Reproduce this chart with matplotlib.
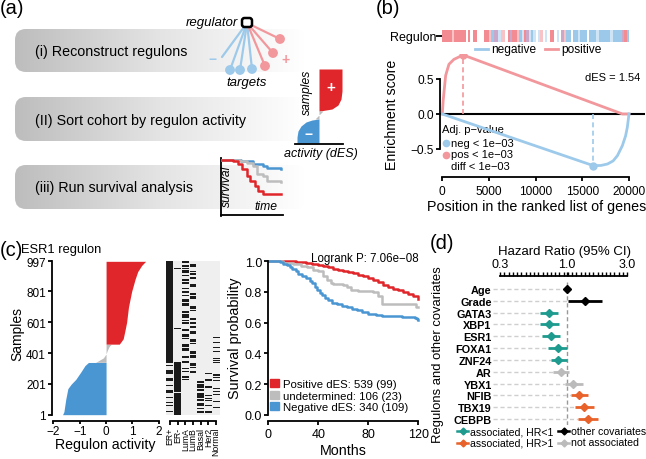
import numpy as np
import matplotlib
matplotlib.use('Agg')
import matplotlib.pyplot as plt
from matplotlib.patches import FancyBboxPatch, Circle, Patch
from matplotlib.colors import LinearSegmentedColormap
from matplotlib.ticker import FixedLocator, NullFormatter

plt.rcParams['font.family'] = ['Liberation Sans', 'DejaVu Sans']
plt.rcParams['axes.unicode_minus'] = True

# ================= DATA =================
# (a) schematic
step_labels = ["(i) Reconstruct regulons", "(II) Sort cohort by regulon activity", "(iii) Run survival analysis"]

# (b) GSEA running enrichment scores
pos_rank = [0, 100, 180, 360, 710, 1240, 2230, 19300, 20000]
pos_es = [0.0, 0.2, 0.31, 0.55, 0.71, 0.78, 0.843, 0.0, 0.0]
neg_rank = [0, 16180, 17000, 17700, 18300, 18760, 19290, 19640, 19820, 20000]
neg_es = [0.0, -0.738, -0.735, -0.714, -0.67, -0.595, -0.452, -0.31, -0.19, 0.0]
pos_peak = [2230, 0.843]
neg_peak = [16180, -0.738]
des_text = "dES = 1.54"
pval_lines = ["neg < 1e\u221203", "pos < 1e\u221203", "diff < 1e\u221203"]
barcode = ("rrrrprrrrr" ".r.rr...rr" "pbmmlpp.rm" "rrpblrmlbl"
           ".lp.l.rr.l" ".mpbb.bblb" "bb.bbblbbb" "bblbbbbmrb")
barcode_bin = 250
b_xticks = [0, 5000, 10000, 15000, 20000]
b_yticks = [-0.5, 0.0, 0.5]

# (c) ESR1 regulon activity (sorted samples)
blue_rank = [1, 20, 100, 170, 200, 230, 280, 320, 340]
blue_act = [-1.65, -1.6, -1.53, -1.45, -1.32, -1.15, -0.95, -0.8, -0.67]
gray_rank = [341, 350, 370, 395, 420, 445, 458]
gray_act = [-0.4, -0.3, -0.1, 0.0, 0.05, 0.12, 0.2]
red_rank = [459, 470, 494, 550, 601, 700, 801, 880, 930, 970, 997]
red_act = [0.5, 0.55, 0.65, 0.72, 0.78, 0.85, 0.97, 1.1, 1.2, 1.35, 1.5]
sample_ticks = [1, 201, 401, 601, 801, 997]
act_ticks = [-2, -1, 0, 1, 2]

# (c) annotation heatmap: black intervals (sample ranks) per column
heat_cols = ["ER+", "ER-", "LumA", "LumB", "Basal", "Her2", "Normal"]
heat_er_pos = [(20, 26), (56, 64), (78, 86), (110, 118), (140, 160), (185, 195), (218, 240),
               (262, 290), (318, 324), (336, 340), (345, 997)]
heat_er_neg = [(1, 140), (146, 218), (222, 340), (470, 474), (560, 563), (948, 952)]
heat_luma = [(985, 997), (961, 974), (946, 952), (924, 940), (900, 905), (870, 880), (848, 862),
             (815, 826), (794, 806), (770, 775), (735, 750), (707, 728), (660, 675), (631, 652),
             (610, 615), (587, 600), (544, 560), (505, 522), (490, 500), (470, 475), (440, 457),
             (414, 432), (370, 380), (338, 350), (300, 305), (280, 284), (240, 251), (229, 234)]
heat_lumb = [(957, 978), (930, 936), (905, 924), (881, 896), (827, 848), (780, 794), (751, 770),
             (690, 707), (675, 684), (615, 631), (588, 605), (565, 575), (523, 544), (475, 490),
             (458, 468), (395, 414), (371, 388), (320, 338), (306, 312), (270, 284), (262, 266)]
heat_basal = [(15, 22), (35, 46), (56, 78), (89, 100), (111, 143), (154, 165), (176, 197), (208, 219)]
heat_her2 = [(13, 24), (55, 67), (89, 95), (100, 110), (120, 132), (176, 190), (219, 232), (262, 273)]
heat_normal = [(45, 50), (86, 90), (132, 138), (150, 155), (170, 176), (219, 225), (240, 245),
               (255, 262), (302, 306), (338, 342), (350, 355), (365, 371), (410, 414), (436, 440),
               (468, 472), (500, 504)]

# (c) Kaplan-Meier curves
km_pos_t = [0, 22, 25, 30, 35, 40, 44, 48, 52, 56, 60, 64, 68, 72, 76, 80, 84, 88, 92, 96, 100, 104, 108, 112, 116, 120]
km_pos_s = [1.0, 0.997, 0.993, 0.988, 0.982, 0.975, 0.968, 0.96, 0.95, 0.944, 0.937, 0.93, 0.922, 0.913,
            0.903, 0.893, 0.878, 0.862, 0.845, 0.832, 0.822, 0.812, 0.8, 0.79, 0.777, 0.755]
km_und_t = [0, 12, 20, 26, 31, 36, 40, 44, 47, 50, 52, 60, 63, 66, 72, 84, 88, 91, 118, 120]
km_und_s = [1.0, 0.99, 0.98, 0.97, 0.96, 0.945, 0.935, 0.906, 0.88, 0.86, 0.852, 0.845, 0.83, 0.81,
            0.805, 0.797, 0.776, 0.722, 0.70, 0.70]
km_neg_t = [0, 9, 12, 15, 17, 19, 22, 24, 27, 30, 33, 35, 37, 39, 41, 43, 45, 48, 51, 55, 59, 63, 67,
            71, 75, 80, 86, 91, 100, 107, 113, 117, 119, 120]
km_neg_s = [1.0, 0.995, 0.985, 0.975, 0.96, 0.95, 0.935, 0.92, 0.905, 0.89, 0.872, 0.86, 0.835, 0.81,
            0.795, 0.78, 0.762, 0.745, 0.73, 0.72, 0.71, 0.70, 0.69, 0.68, 0.67, 0.657, 0.65, 0.646,
            0.643, 0.64, 0.637, 0.633, 0.625, 0.62]
km_labels = ["Positive dES: 539 (99)", "undetermined: 106 (23)", "Negative dES: 340 (109)"]
logrank_text = "Logrank P: 7.06e\u221208"
km_xticks = [0, 40, 80, 120]
km_yticks = [0.0, 0.2, 0.4, 0.6, 0.8, 1.0]

# (d) forest plot
fp_names = ['Age', 'Grade', 'GATA3', 'XBP1', 'ESR1', 'FOXA1', 'ZNF24', 'AR', 'YBX1', 'NFIB', 'TBX19', 'CEBPB']
fp_hr = [1.0, 1.40, 0.725, 0.725, 0.748, 0.849, 0.855, 0.90, 1.128, 1.25, 1.37, 1.48]
fp_lo = [0.98, 1.03, 0.615, 0.615, 0.635, 0.716, 0.748, 0.775, 0.97, 1.075, 1.16, 1.235]
fp_hi = [1.02, 1.89, 0.859, 0.87, 0.885, 1.0, 1.0, 1.05, 1.34, 1.48, 1.64, 1.78]
fp_group = ['other', 'other', 'low', 'low', 'low', 'low', 'low', 'na', 'na', 'high', 'high', 'high']
fp_major = [0.3, 1.0, 3.0]
fp_legend = [('low', 'associated, HR<1'), ('high', 'associated, HR>1'),
             ('other', 'other covariates'), ('na', 'not associated')]

# ================= STYLE =================
RED = '#E0262B'
BLUE = '#4A96D2'
GRAY = '#BDBDBD'
PINK = '#F2979C'
LBLUE = '#9DCAEA'
BAR_COLORS = {'r': '#F28C92', 'p': '#F7C3C6', 'b': '#9CC9EA', 'l': '#CFE4F4', 'm': '#C9A8C9'}
GROUP_COLORS = {'low': '#1E9A8E', 'high': '#E8632B', 'other': '#000000', 'na': '#BBBBBB'}
LW = 1.3

W, H = 646, 460
fig = plt.figure(figsize=(W / 100, H / 100), dpi=100)


def rect(x0, y0, x1, y1):
    return [x0 / W, 1 - y1 / H, (x1 - x0) / W, (y1 - y0) / H]


def r_style(ax):
    ax.set_facecolor('none')
    for s in ['top', 'right']:
        ax.spines[s].set_visible(False)
    for s in ['left', 'bottom']:
        ax.spines[s].set_linewidth(LW)
    ax.tick_params(width=LW, length=3, pad=1.5)


ax0 = fig.add_axes([0, 0, 1, 1])
ax0.set_facecolor('none')
ax0.axis('off')

# ================= PANEL A =================
box_cmap = LinearSegmentedColormap.from_list('box', ['#BDBDBD', '#E4E4E4', '#FFFFFF'])
grad = np.linspace(0, 1, 256).reshape(1, -1)
for (yt, yb), lab in zip([(30, 73), (98, 142), (166, 210)], step_labels):
    bp = FancyBboxPatch((15, yt), 290, yb - yt, boxstyle='round,pad=0,rounding_size=11',
                        facecolor='none', edgecolor='none')
    ax0.add_patch(bp)
    im = ax0.imshow(grad, extent=(15, 305, yb, yt), aspect='auto', cmap=box_cmap,
                    interpolation='bilinear', zorder=0)
    im.set_clip_path(bp)
    ax0.text(35, (yt + yb) / 2 + 0.5, lab, fontsize=10.3, va='center', ha='left', zorder=2)

# regulator network (schematic)
reg = (247, 24)
for (tx, ty) in [(222, 58), (230, 71), (240, 71), (252, 70)]:
    ax0.plot([reg[0], tx], [reg[1], ty], color=LBLUE, lw=1.6, zorder=2, solid_capstyle='round')
for (tx, ty) in [(265, 67), (273, 54), (280, 40)]:
    ax0.plot([reg[0], tx], [reg[1], ty], color=PINK, lw=1.6, zorder=2, solid_capstyle='round')
for (tx, ty) in [(230, 71), (240, 71), (252, 70)]:
    ax0.add_patch(Circle((tx, ty), 4.2, color=LBLUE, zorder=3))
for (tx, ty) in [(265, 67), (273, 54), (280, 40)]:
    ax0.add_patch(Circle((tx, ty), 4.2, color=PINK, zorder=3))
ax0.add_patch(FancyBboxPatch((242, 19), 10, 9, boxstyle='round,pad=0,rounding_size=2.5',
                             facecolor='white', edgecolor='black', lw=1.8, zorder=4))
ax0.text(238, 23, "regulator", fontsize=9.5, style='italic', ha='right', va='center')
ax0.text(213, 60, "\u2212", fontsize=10, color=LBLUE, ha='center', va='center', fontweight='bold')
ax0.text(286, 60, "+", fontsize=10, color=PINK, ha='center', va='center', fontweight='bold')
ax0.text(247, 83, "targets", fontsize=9.5, style='italic', ha='center', va='center')

# sorted-activity schematic
ax0.fill_betweenx([70, 92, 100, 106, 110, 112], [342, 342, 341, 338, 332, 320], 319, color=RED, lw=0, zorder=2)
ax0.fill_betweenx([112, 116, 120], [323, 319, 315], 319, color=GRAY, lw=0, zorder=2)
ax0.fill_betweenx([120, 121, 123, 127, 132, 138, 144], [319, 312, 306, 301, 298, 297, 297], 319,
                  color=BLUE, lw=0, zorder=2)
ax0.plot([295, 343], [145, 145], color='black', lw=1.3, zorder=2)
ax0.text(331, 88, "+", fontsize=11, color='white', ha='center', va='center', fontweight='bold', zorder=3)
ax0.text(309, 135, "\u2212", fontsize=10, color='white', ha='center', va='center', fontweight='bold', zorder=3)
ax0.text(307, 92, "samples", fontsize=8.7, style='italic', rotation=90, ha='center', va='center')
ax0.text(321, 154, "activity (dES)", fontsize=9, style='italic', ha='center', va='center')

# mini survival schematic
ax0.plot([221, 221], [159, 217], color='black', lw=1.3)
ax0.plot([221, 283], [216, 216], color='black', lw=1.3)
ax0.plot([222, 241, 253, 263, 267, 281], [161, 162, 165, 167, 168.5, 170], color=BLUE, lw=1.8,
         drawstyle='steps-post')
ax0.plot([222, 240, 247, 253, 257, 263, 267, 281], [161, 162, 163.5, 167, 175, 177, 182, 183], color=GRAY,
         lw=1.8, drawstyle='steps-post')
ax0.plot([222, 233, 238, 242, 247, 250, 255, 258, 263, 281], [161, 162, 165, 170, 177, 182, 187, 192, 195, 195],
         color=RED, lw=1.8, drawstyle='steps-post')
ax0.text(227, 186, "survival", fontsize=8.7, style='italic', rotation=90, ha='center', va='center')
ax0.text(266, 207, "time", fontsize=8.7, style='italic', ha='center', va='center')

# ================= PANEL B =================
# x mapping: gene 0 -> px 442.3, gene 20000 -> px 629
bscale = (629.0 - 442.3) / 20000.0
axb = fig.add_axes(rect(440.0, 55, 645, 178))
r_style(axb)
axb.set_xlim(-(442.3 - 440.0) / bscale, (645 - 442.3) / bscale)
axb.set_ylim(-0.9, 0.857)
axb.axhline(0, color='black', lw=1.5, zorder=1)
axb.plot(pos_rank, pos_es, color=PINK, lw=2, zorder=2)
axb.plot(neg_rank, neg_es, color=LBLUE, lw=2, zorder=2)
axb.plot([pos_peak[0]] * 2, [0, pos_peak[1]], color=PINK, lw=1.2, ls=(0, (3, 2)))
axb.plot([neg_peak[0]] * 2, [0, neg_peak[1]], color=LBLUE, lw=1.2, ls=(0, (3, 2)))
axb.plot(*pos_peak, 'o', color=PINK, ms=5, zorder=3)
axb.plot(*neg_peak, 'o', color=LBLUE, ms=5, zorder=3)
axb.spines['left'].set_bounds(-0.5, 0.5)
axb.spines['bottom'].set_bounds(0, 20000)
axb.set_xticks(b_xticks)
axb.set_xticklabels([str(v) for v in b_xticks])
axb.set_yticks(b_yticks)
axb.set_yticklabels(['\u22120.5', '0.0', '0.5'])
axb.tick_params(labelsize=8.6)
axb.tick_params(axis='x', pad=2.5)

ax0.text(640, 78, des_text, fontsize=8, ha='right', va='center')
ax0.text(442, 130, "Adj. p\u2212value", fontsize=8, ha='left', va='center')
ax0.plot([446], [144], 'o', color=LBLUE, ms=4.5)
ax0.plot([446], [155.5], 'o', color=PINK, ms=4.5)
for yy, t in zip([144, 155.5, 167], pval_lines):
    ax0.text(451, yy, t, fontsize=8, ha='left', va='center')
ax0.text(392, 115, "Enrichment score", fontsize=10.2, rotation=90, ha='center', va='center')
ax0.text(537, 207.5, "Position in the ranked list of genes", fontsize=10.3, ha='center', va='center')

# barcode
axbc = fig.add_axes(rect(442.3, 31, 629.0, 43))
axbc.set_facecolor('none')
for s in ['top', 'right', 'bottom', 'left']:
    axbc.spines[s].set_visible(False)
for i, ch in enumerate(barcode):
    if ch in BAR_COLORS:
        axbc.bar(i * barcode_bin, 1, width=barcode_bin, align='edge', color=BAR_COLORS[ch], lw=0)
axbc.set_xlim(0, 20000)
axbc.set_ylim(0, 1)
axbc.set_xticks([])
axbc.set_yticks([0.5])
axbc.set_yticklabels(["Regulon"])
axbc.tick_params(axis='y', length=4, width=1.3, pad=0.5, labelsize=9)

# negative / positive legend
ax0.plot([475, 488], [50, 50], color=LBLUE, lw=2)
ax0.text(491, 50, "negative", fontsize=8.6, ha='left', va='center')
ax0.plot([545, 558], [50, 50], color=PINK, lw=2)
ax0.text(561, 50, "positive", fontsize=8.6, ha='left', va='center')

# ================= PANEL C =================
axc = fig.add_axes(rect(52.3, 256, 163, 422.3))
r_style(axc)
axc.set_xlim(-2.04, 2.16)
axc.set_ylim(-42, 1038)
axc.fill_betweenx(blue_rank, blue_act, 0, color=BLUE, lw=0)
axc.fill_betweenx(gray_rank, gray_act, 0, color=GRAY, lw=0)
axc.fill_betweenx(red_rank, red_act, 0, color=RED, lw=0)
axc.spines['left'].set_bounds(1, 997)
axc.spines['bottom'].set_bounds(-2, 2)
axc.set_yticks(sample_ticks)
axc.set_xticks(act_ticks)
axc.set_xticklabels(['\u22122', '\u22121', '0', '1', '2'])
axc.tick_params(labelsize=8.5)
axc.tick_params(axis='x', length=2.5, pad=0.3)
ax0.text(17.5, 334, "Samples", fontsize=10, rotation=90, ha='center', va='center')
ax0.text(105, 445, "Regulon activity", fontsize=10.2, ha='center', va='center')
ax0.text(21, 250, "ESR1 regulon", fontsize=9.3, ha='left', va='center')

# heatmap
axh = fig.add_axes(rect(166, 256, 220, 422.3))
axh.set_facecolor('none')
for s in ['top', 'right', 'left']:
    axh.spines[s].set_visible(False)
axh.spines['bottom'].set_linewidth(LW)
axh.spines['bottom'].set_bounds(0, 6)
axh.set_xlim(-0.5, 6.5)
axh.set_ylim(-42, 1038)
axh.bar(range(7), 996, bottom=1, width=1.0, color='#EFEFEF', lw=0)
heat_data = [heat_er_pos, heat_er_neg, heat_luma, heat_lumb, heat_basal, heat_her2, heat_normal]
for ci, ivs in enumerate(heat_data):
    for (a, b) in ivs:
        axh.bar(ci, b - a, bottom=a, width=0.88, color='#1B1B1B', lw=0)
axh.set_yticks([])
axh.set_xticks(range(7))
axh.set_xticklabels(heat_cols, rotation=90, fontsize=6.3)
axh.tick_params(axis='x', length=3, width=LW, pad=1)

# Kaplan-Meier
axk = fig.add_axes(rect(268.3, 256, 425, 422.3))
r_style(axk)
axk.set_xlim(0, 125.4)
axk.set_ylim(-0.043, 1.041)
axk.step(km_pos_t, km_pos_s, where='post', color=RED, lw=1.8)
axk.step(km_und_t, km_und_s, where='post', color=GRAY, lw=1.8)
axk.step(km_neg_t, km_neg_s, where='post', color=BLUE, lw=1.8)
axk.spines['left'].set_bounds(0, 1)
axk.spines['bottom'].set_bounds(0, 120)
axk.set_xticks(km_xticks)
axk.set_yticks(km_yticks)
axk.set_yticklabels(['%.1f' % v for v in km_yticks])
axk.tick_params(labelsize=9)
handles = [Patch(color=RED), Patch(color=GRAY), Patch(color=BLUE)]
axk.legend(handles, km_labels, loc='lower left', bbox_to_anchor=(0.012, 0.055), frameon=False,
           borderaxespad=0, borderpad=0, handlelength=0.75, handleheight=0.75, handletextpad=0.4,
           labelspacing=0.12, fontsize=8.2)
ax0.text(419, 259, logrank_text, fontsize=8.3, ha='right', va='center')
ax0.text(235, 338, "Survival probability", fontsize=10.4, rotation=90, ha='center', va='center')
ax0.text(343, 451.5, "Months", fontsize=10.3, ha='center', va='center')

# ================= PANEL D =================
axd = fig.add_axes(rect(493, 276.7, 640, 426))
axd.set_facecolor('none')
axd.set_xscale('log')
xl = (0.263, 3.79)
axd.set_xlim(*xl)
n = len(fp_names)
ys = [n - i for i in range(n)]
axd.set_ylim(0.49, 13.12)
for s in ['bottom', 'left', 'right']:
    axd.spines[s].set_visible(False)
axd.spines['top'].set_linewidth(LW)
axd.spines['top'].set_bounds(0.3, 3.0)
axd.xaxis.set_ticks_position('top')
axd.xaxis.set_major_locator(FixedLocator(fp_major))
axd.set_xticklabels(['%.1f' % v for v in fp_major])
axd.xaxis.set_minor_locator(FixedLocator(10 ** np.linspace(np.log10(0.3), np.log10(3.0), 31)))
axd.xaxis.set_minor_formatter(NullFormatter())
axd.tick_params(axis='x', which='both', direction='out', length=3, width=1.0, labelsize=9, pad=1)
axd.vlines(1.0, 0.49, 12.6, color='#999999', lw=1, ls=(0, (3, 2)))
for y, h, lo, hi, g in zip(ys, fp_hr, fp_lo, fp_hi, fp_group):
    c = GROUP_COLORS[g]
    axd.hlines(y, xl[0], lo, color='#CFCFCF', lw=1, ls=(0, (3, 2)))
    axd.hlines(y, lo, hi, color=c, lw=2)
    axd.plot(h, y, marker='D', color=c, ms=4.2)
axd.set_yticks(ys)
axd.set_yticklabels(fp_names, fontsize=7.8, fontweight='bold')
axd.tick_params(axis='y', length=0, pad=1)
ax0.text(565, 252, "Hazard Ratio (95% CI)", fontsize=9.5, ha='center', va='center')
ax0.text(437.5, 355, "Regulons and other covariates", fontsize=9.4, rotation=90, ha='center', va='center')
leg_pos = [(457, 432.3), (457, 443.5), (558, 432.3), (558, 443.5)]
for (g, lab), (lx, ly) in zip(fp_legend, leg_pos):
    c = GROUP_COLORS[g]
    ax0.plot([lx, lx + 11], [ly, ly], color=c, lw=1.8)
    ax0.plot([lx + 5.5], [ly], marker='D', color=c, ms=3.5)
    ax0.text(lx + 13, ly, lab, fontsize=7.6, ha='left', va='center')

# panel labels
ax0.text(0, 9, "(a)", fontsize=14.5, ha='left', va='center')
ax0.text(376, 9, "(b)", fontsize=14.5, ha='left', va='center')
ax0.text(0, 250, "(c)", fontsize=14.5, ha='left', va='center')
ax0.text(430, 244, "(d)", fontsize=14.5, ha='left', va='center')

ax0.set_xlim(0, W)
ax0.set_ylim(H, 0)
fig.savefig('out.png', dpi=100)
